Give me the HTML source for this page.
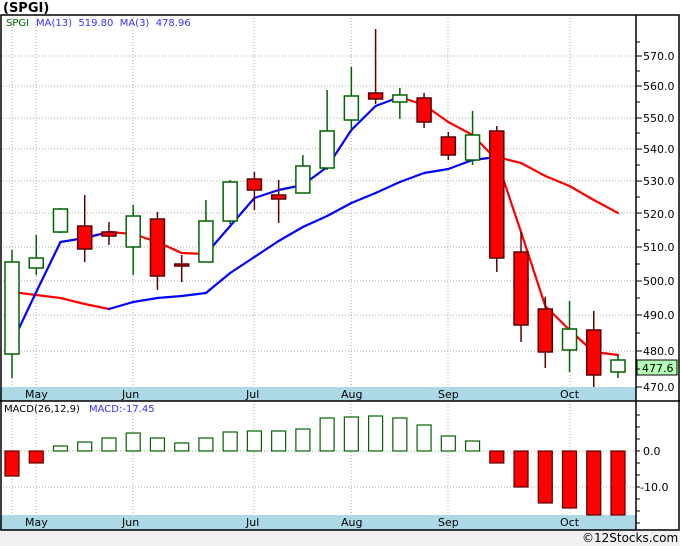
<!DOCTYPE html>
<html><head><meta charset="utf-8"><style>
html,body{margin:0;padding:0;background:#fff;}
svg{display:block;font-family:"DejaVu Sans",Verdana,sans-serif;}
</style></head><body>
<svg id="s" width="680" height="546" viewBox="0 0 680 546" xmlns="http://www.w3.org/2000/svg">
<rect x="0" y="0" width="680" height="546" fill="#fff"/>
<rect x="0" y="530" width="680" height="16" fill="#f0f0f0"/>
<text x="3" y="12" font-size="13" font-weight="bold" fill="#000">(SPGI)</text>
<g id="grid" stroke="#aaa" stroke-dasharray="1,2" stroke-width="1"></g>
<rect x="0" y="387" width="636" height="14" fill="#add8e6"/>
<rect x="0" y="515" width="636" height="15" fill="#add8e6"/>
<g id="lines"></g>
<g id="candles"></g>
<g id="macd"></g>
<g font-size="11" fill="#000">
<text x="25" y="398">May</text><text x="122" y="398">Jun</text><text x="246" y="398">Jul</text><text x="341" y="398">Aug</text><text x="438" y="398">Sep</text><text x="560" y="398">Oct</text>
<text x="25" y="526">May</text><text x="122" y="526">Jun</text><text x="246" y="526">Jul</text><text x="341" y="526">Aug</text><text x="438" y="526">Sep</text><text x="560" y="526">Oct</text>
</g>
<g font-size="11" fill="#000" id="ylab">
<text x="643" y="60">570.0</text><text x="643" y="90">560.0</text><text x="643" y="122">550.0</text><text x="643" y="153">540.0</text><text x="643" y="185">530.0</text><text x="643" y="218">520.0</text><text x="643" y="251">510.0</text><text x="643" y="285">500.0</text><text x="643" y="319">490.0</text><text x="643" y="355">480.0</text><text x="643" y="391">470.0</text>
<text x="643" y="455">0.0</text><text x="640" y="491">-10.0</text>
</g>
<rect x="637" y="360" width="40" height="15" fill="#b3ffb3" stroke="#000"/>
<text x="642" y="372" font-size="11" fill="#000">477.6</text>
<g stroke="#000" stroke-width="1.5" fill="none">
<rect x="1" y="15" width="678" height="515"/>
<line x1="636" y1="15" x2="636" y2="530"/>
<line x1="0" y1="401" x2="680" y2="401"/>
</g>
<text x="6" y="26" font-size="10" fill="#006400">SPGI</text>
<text x="36" y="26" font-size="10" fill="#3333ff" xml:space="preserve">MA(13)  519.80  MA(3)  478.96</text>
<text x="4" y="412" font-size="10" fill="#000">MACD(26,12,9)</text>
<text x="89" y="412" font-size="10" fill="#3333ff">MACD:-17.45</text>
<text x="582" y="542" font-size="12" fill="#000">©12Stocks.com</text>
</svg>
<script>
const NS="http://www.w3.org/2000/svg";
function el(p,t,a){const e=document.createElementNS(NS,t);for(const k in a)e.setAttribute(k,a[k]);p.appendChild(e);return e;}
const g=document.getElementById('grid');
[56,86,118,149,181,213,247,281,315,351].forEach(y=>el(g,'line',{x1:0,y1:y,x2:636,y2:y}));
[451,487].forEach(y=>el(g,'line',{x1:0,y1:y,x2:636,y2:y}));
[12,36,133,254,351,448,570].forEach(x=>{el(g,'line',{x1:x,y1:15,x2:x,y2:387});el(g,'line',{x1:x,y1:401,x2:x,y2:515});});
const s=document.getElementById('s');
const tk=el(s,'g',{stroke:'#000','stroke-width':1});
[56,86,118,149,181,213,247,281,315,351,387].forEach(y=>el(tk,'line',{x1:636,y1:y,x2:642,y2:y}));
[71,102,133,165,197,230,264,298,333,369,42].forEach(y=>el(tk,'line',{x1:636,y1:y,x2:640,y2:y}));
[415,427,439,451,463,475,487,499,511,523].forEach(y=>el(tk,'line',{x1:636,y1:y,x2:640,y2:y}));
const C=[[262,354,250,378,1],[258,268,235,275,1],[209,232,208,233,1],[226,249,195,262,0],[232,236,222,245,0],[216,247,205,275,1],[219,276,212,290,0],[264,266,255,282,0],[221,262,200,262,1],[182,221,180,224,1],[179,190,172,210,0],[195,199,180,223,0],[166,193,155,193,1],[131,168,90,170,1],[96,120,67,130,1],[93,99,29,104,0],[95,102,88,119,1],[98,122,93,128,0],[137,155,132,160,0],[135,160,111,165,1],[131,258,126,272,0],[252,325,232,342,0],[309,352,297,368,0],[329,350,301,372,1],[330,375,311,387,0],[360,372,355,378,1]];
const X=i=>12+i*24.24;
const M13=[292,295,298,304,309,302,298,296,293,273,257,241,227,216,203,193,182,173,169,160,157,163,176,186,200,213];
const M3=[343,292,242,238,232,234,242,253,254,226,198,190,185,167,130,106,97,105,122,135,160,232,306,330,352,355];
const L=document.getElementById('lines');
function drawMA(a){for(let i=0;i<a.length-1;i++){el(L,'line',{x1:X(i),y1:a[i],x2:X(i+1),y2:a[i+1],stroke:a[i+1]<=a[i]?'#0000ff':'#ff0000','stroke-width':2.2,'stroke-linecap':'round'});}}
drawMA(M13);drawMA(M3);
const cg=document.getElementById('candles');
C.forEach((c,i)=>{const x=X(i),col=c[4]?'#006400':'#5a0000';
el(cg,'line',{x1:x,y1:c[2],x2:x,y2:c[3],stroke:col,'stroke-width':1.5});
el(cg,'rect',{x:x-7,y:c[0],width:14,height:Math.max(2,c[1]-c[0]),fill:c[4]?'#fff':'#ff0000',stroke:col,'stroke-width':1.5});});
const MD=[476,463,446,442,438,433,438,443,438,432,431,431,429,418,417,416,418,425,436,441,463,487,503,508,515,515];
const mg=document.getElementById('macd');
MD.forEach((v,i)=>{const x=X(i);const up=v<451;
el(mg,'rect',{x:x-7,y:Math.min(v,451),width:14,height:Math.abs(v-451),fill:up?'#fff':'#ff0000',stroke:up?'#006400':'#5a0000','stroke-width':1.2});});
</script>
</body></html>
